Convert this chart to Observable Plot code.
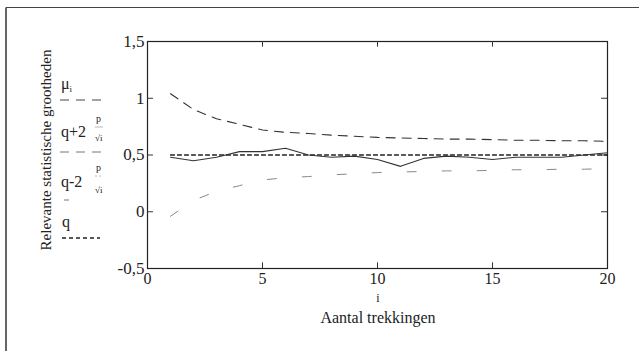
<!DOCTYPE html>
<html><head><meta charset="utf-8">
<script src="https://cdn.jsdelivr.net/npm/d3@7"></script>
<script src="https://cdn.jsdelivr.net/npm/@observablehq/plot@0.6"></script>
<style>
html,body{margin:0;padding:0;background:#fff;}
#chart{position:relative;width:639px;height:351px;}
#chart svg, #chart svg text{font-family:"Liberation Serif","DejaVu Serif",serif !important;}
</style></head><body><div id="chart"></div>
<script>
const trekking = [1,2,3,4,5,6,7,8,9,10,11,12,13,14,15,16,17,18,19,20];
const mu    = [0.48,0.45,0.48,0.53,0.53,0.56,0.50,0.48,0.49,0.46,0.40,0.47,0.49,0.48,0.46,0.48,0.48,0.48,0.50,0.52];
const upper = [1.04,0.90,0.82,0.77,0.72,0.70,0.69,0.675,0.665,0.655,0.65,0.645,0.64,0.64,0.635,0.63,0.63,0.625,0.625,0.62];
const lower = [-0.04,0.10,0.18,0.23,0.28,0.30,0.31,0.325,0.335,0.345,0.35,0.355,0.36,0.36,0.365,0.37,0.37,0.375,0.375,0.38];
const q = 0.5;
const yTicks = [1.5,1,0.5,0,-0.5];
const xTicks = [0,5,10,15,20];

const rows = trekking.map((i,k)=>({i, mu:mu[k], up:upper[k], lo:lower[k], q}));
const fmt = d => String(d).replace(".", ",");

const chart = Plot.plot({
  width: 639, height: 351,
  marginLeft: 147, marginRight: 32, marginTop: 41, marginBottom: 83,
  style: {fontFamily: '"Liberation Serif", serif', fontSize: "16px", color: "#222", background: "#fff"},
  x: {domain: [0,20]},
  y: {domain: [-0.5,1.5]},
  marks: [
    Plot.frame({stroke: "#222", strokeWidth: 1.2}),
    Plot.axisY(yTicks, {tickSize: 0, tickPadding: 3, tickFormat: fmt, fontSize: 17, label: null}),
    Plot.axisX(xTicks, {tickSize: 0, tickPadding: 4, fontSize: 16, label: null}),
    Plot.ruleY([1,0.5,0], {x1: 0, x2: 0.26, stroke: "#333"}),
    Plot.ruleY([1,0.5,0], {x1: 19.74, x2: 20, stroke: "#333"}),
    Plot.ruleX([5,10,15], {y1: -0.5, y2: -0.45, stroke: "#333"}),
    Plot.ruleX([5,10,15], {y1: 1.45, y2: 1.5, stroke: "#333"}),
    Plot.lineY(rows, {x: "i", y: "up", stroke: "#333", strokeWidth: 1.1, strokeDasharray: "9,7"}),
    Plot.lineY(rows, {x: "i", y: "lo", stroke: "#888", strokeWidth: 1, strokeDasharray: "9,26"}),
    Plot.lineY(rows, {x: "i", y: "q", stroke: "#222", strokeWidth: 1.3, strokeDasharray: "4,3"}),
    Plot.lineY(rows, {x: "i", y: "mu", stroke: "#333", strokeWidth: 1.1})
  ]
});
document.getElementById("chart").appendChild(chart);

const svg = d3.select(chart);
// outer border (top and left only)
svg.append("line").attr("x1",6).attr("x2",639).attr("y1",7.5).attr("y2",7.5).attr("stroke","#444").attr("stroke-width",1.2);
svg.append("line").attr("x1",6).attr("x2",6).attr("y1",7.5).attr("y2",351).attr("stroke","#333").attr("stroke-width",1.5);

// axis titles
svg.append("text").attr("x",378).attr("y",302).attr("text-anchor","middle").attr("font-size",12).attr("fill","#222").text("i");
svg.append("text").attr("x",378).attr("y",323).attr("text-anchor","middle").attr("font-size",16).attr("fill","#222").text("Aantal trekkingen");
svg.append("text").attr("transform","translate(51,150) rotate(-90)").attr("text-anchor","middle").attr("font-size",15).attr("fill","#222").text("Relevante statistische grootheden");

// legend
const L = svg.append("g").attr("fill","#222").attr("font-size",16).attr("text-anchor","start");
const mt = L.append("text").attr("x",61).attr("y",89);
mt.append("tspan").text("\u03bc");
mt.append("tspan").attr("font-size",9).attr("dy",3).text("i");
L.append("line").attr("x1",60).attr("x2",108).attr("y1",100).attr("y2",100).attr("stroke","#444").attr("stroke-dasharray","9,7");

L.append("text").attr("x",61).attr("y",137).text("q+2");
L.append("text").attr("x",96).attr("y",122).attr("font-size",10).text("p");
L.append("line").attr("x1",95).attr("x2",103).attr("y1",127).attr("y2",127).attr("stroke","#888").attr("stroke-width",0.6);
L.append("text").attr("x",95).attr("y",141).attr("font-size",9).text("\u221ai");
L.append("line").attr("x1",60).attr("x2",108).attr("y1",152).attr("y2",152).attr("stroke","#777").attr("stroke-dasharray","9,7");

L.append("text").attr("x",61).attr("y",187).text("q-2");
L.append("text").attr("x",96).attr("y",171).attr("font-size",10).text("p");
L.append("line").attr("x1",95).attr("x2",103).attr("y1",176).attr("y2",176).attr("stroke","#888").attr("stroke-width",0.6).attr("stroke-dasharray","2,2");
L.append("text").attr("x",95).attr("y",193).attr("font-size",9).text("\u221ai");
L.append("line").attr("x1",64).attr("x2",69).attr("y1",200).attr("y2",200).attr("stroke","#777");

L.append("text").attr("x",62).attr("y",227).text("q");
L.append("line").attr("x1",62).attr("x2",100).attr("y1",238).attr("y2",238).attr("stroke","#222").attr("stroke-width",1.3).attr("stroke-dasharray","4,3");
</script></body></html>
